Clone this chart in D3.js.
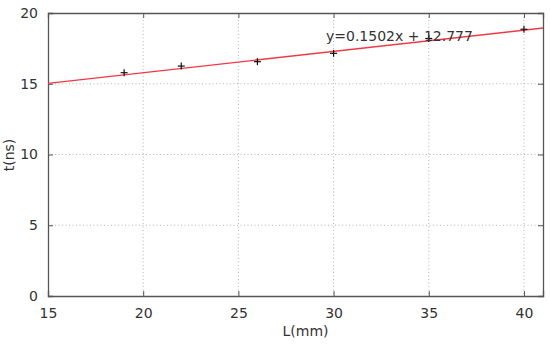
<!DOCTYPE html>
<html>
<head>
<meta charset="utf-8">
<script src="https://cdn.jsdelivr.net/npm/d3@7"></script>
<style>
body { margin: 0; background: #fff; }
text { font-family: "DejaVu Sans", Verdana, sans-serif; fill: #333; }
</style>
</head>
<body>
<script>
var width = 550,
    height = 350;

// measured points
var lengths = [19, 22, 26, 30, 35, 40];
var times = [15.78, 16.25, 16.56, 17.15, 18.2, 18.85];

// linear fit shown on the chart
var fitSlope = 0.1502,
    fitIntercept = 12.777;
var fitLabel = "y=0.1502x + 12.777";

var xTicks = [15, 20, 25, 30, 35, 40];
var yTicks = [0, 5, 10, 15, 20];

var margin = {top: 13, right: 7, bottom: 54, left: 48};

var x = d3.scaleLinear()
    .domain([15, 41])
    .range([margin.left, width - margin.right]);

var y = d3.scaleLinear()
    .domain([0, 20])
    .range([height - margin.bottom, margin.top]);

var svg = d3.select("body").append("svg")
    .attr("width", width)
    .attr("height", height);

// grid
svg.append("g")
    .selectAll("line")
    .data(xTicks.slice(1))
    .enter().append("line")
    .attr("x1", function(d) { return x(d); })
    .attr("x2", function(d) { return x(d); })
    .attr("y1", y(20))
    .attr("y2", y(0))
    .attr("stroke", "#b4b4b4")
    .attr("stroke-dasharray", "1,2.5");

svg.append("g")
    .selectAll("line")
    .data(yTicks.slice(1, -1))
    .enter().append("line")
    .attr("x1", x(15))
    .attr("x2", x(41))
    .attr("y1", function(d) { return y(d); })
    .attr("y2", function(d) { return y(d); })
    .attr("stroke", "#b4b4b4")
    .attr("stroke-dasharray", "1,2.5");

// axes
var xAxis = svg.append("g")
    .attr("transform", "translate(0," + y(0) + ")")
    .call(d3.axisBottom(x).tickValues(xTicks).tickSize(-5).tickPadding(12));
var xTop = svg.append("g")
    .attr("transform", "translate(0," + y(20) + ")")
    .call(d3.axisTop(x).tickValues(xTicks).tickSize(-5).tickFormat(""));
var yAxis = svg.append("g")
    .attr("transform", "translate(" + x(15) + ",0)")
    .call(d3.axisLeft(y).tickValues(yTicks).tickSize(-5).tickPadding(10));
var yRight = svg.append("g")
    .attr("transform", "translate(" + x(41) + ",0)")
    .call(d3.axisRight(y).tickValues(yTicks).tickSize(-5).tickFormat(""));

[xAxis, xTop, yAxis, yRight].forEach(function(g) {
    g.select(".domain").attr("stroke", "#555").attr("stroke-width", 1.3);
    g.selectAll(".tick line").attr("stroke", "#555");
    g.selectAll("text")
        .style("font-family", "'DejaVu Sans', Verdana, sans-serif")
        .style("font-size", "14px")
        .attr("fill", "#333");
});

// fit line
svg.append("line")
    .attr("x1", x(15))
    .attr("y1", y(fitSlope * 15 + fitIntercept))
    .attr("x2", x(41))
    .attr("y2", y(fitSlope * 41 + fitIntercept))
    .attr("stroke", "#f23844")
    .attr("stroke-width", 1.4);

// points as "+" markers
var pts = svg.append("g")
    .selectAll("g")
    .data(lengths)
    .enter().append("g")
    .attr("transform", function(d, i) {
        return "translate(" + x(d) + "," + y(times[i]) + ")";
    });
pts.append("line").attr("x1", -3.5).attr("x2", 3.5).attr("stroke", "#111").attr("stroke-width", 1.2);
pts.append("line").attr("y1", -3.5).attr("y2", 3.5).attr("stroke", "#111").attr("stroke-width", 1.2);

// annotation
svg.append("text")
    .attr("x", 326)
    .attr("y", 41)
    .style("font-size", "14px")
    .text(fitLabel);

// axis labels
svg.append("text")
    .attr("x", (margin.left + width - margin.right) / 2 + 10)
    .attr("y", 336)
    .attr("text-anchor", "middle")
    .style("font-size", "14px")
    .text("L(mm)");

svg.append("text")
    .attr("transform", "translate(14," + 155 + ") rotate(-90)")
    .attr("text-anchor", "middle")
    .style("font-size", "14px")
    .text("t(ns)");
</script>
</body>
</html>
